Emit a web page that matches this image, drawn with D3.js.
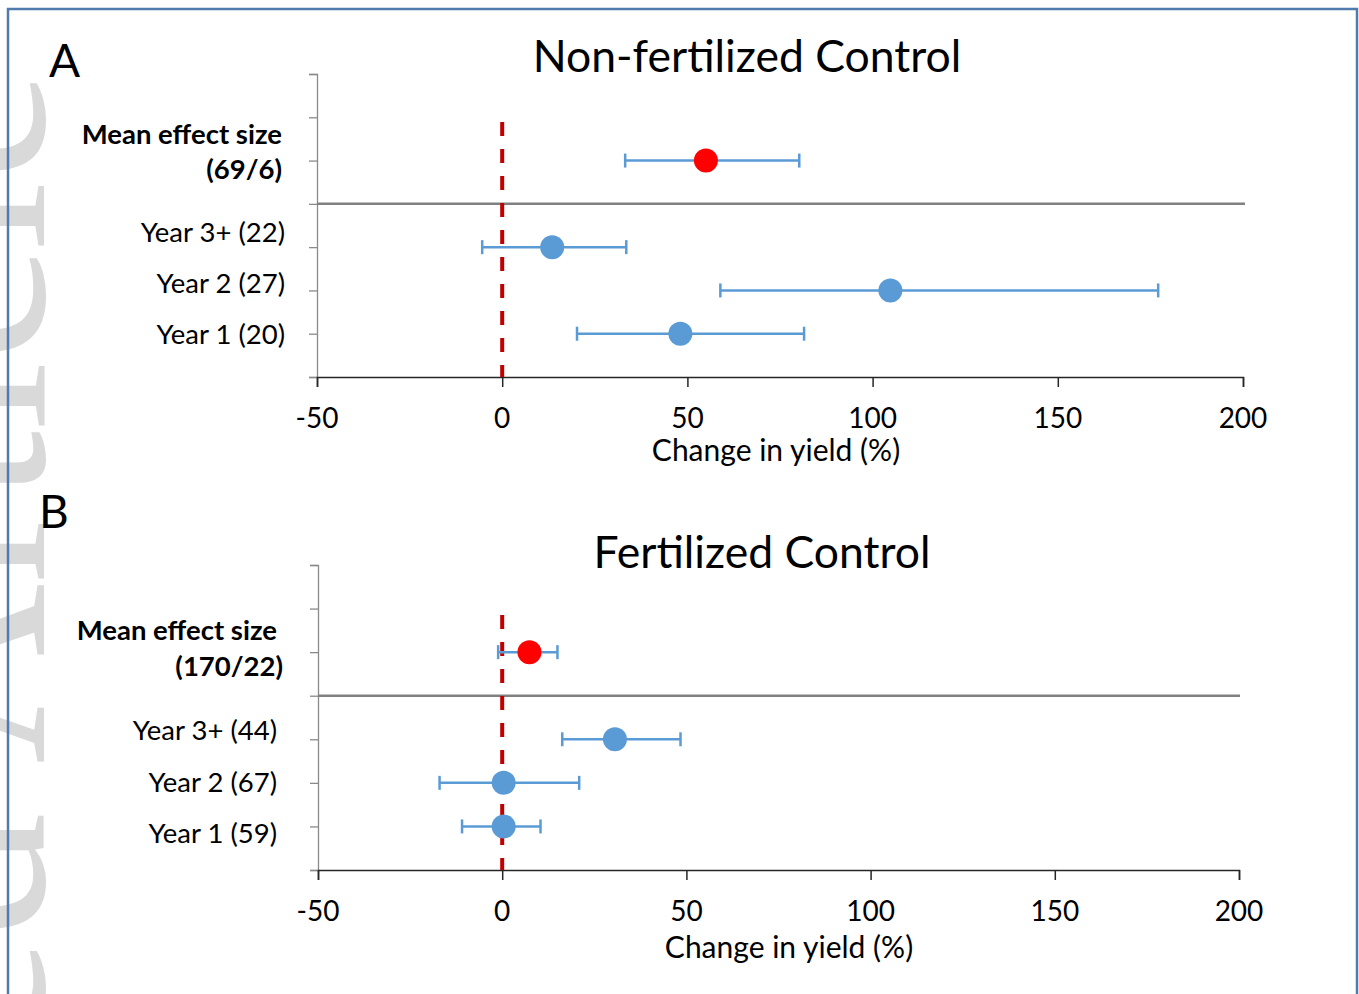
<!DOCTYPE html>
<html>
<head>
<meta charset="utf-8">
<script src="https://cdn.jsdelivr.net/npm/d3@7"></script>
<style>
  body { margin: 0; background: #fff; }
  svg { display: block; }
  text { font-family: Lato, "Noto Sans", sans-serif; fill: #000; }
</style>
</head>
<body>
<svg id="chart" width="1359" height="994"></svg>
<script>
const xTicks = [-50, 0, 50, 100, 150, 200];

// A: non-fertilized control (rows: year 1, year 2, year 3+)
const labelsA = ['Year 1 (20)', 'Year 2 (27)', 'Year 3+ (22)'];
const meansA = [48.1, 104.8, 13.5];
const lowA = [20.2, 58.9, -5.4];
const highA = [81.5, 177.1, 33.5];
const overallA = [55.0];
const overallLowA = [33.2];
const overallHighA = [80.2];

// B: fertilized control
const labelsB = ['Year 1 (59)', 'Year 2 (67)', 'Year 3+ (44)'];
const meansB = [0.4, 0.4, 30.6];
const lowB = [-10.9, -17.0, 16.3];
const highB = [10.4, 20.9, 48.4];
const overallB = [7.4];
const overallLowB = [-1.1];
const overallHighB = [15.0];

const svg = d3.select('#chart');

// faint watermark down the left edge
svg.append('text')
  .attr('transform', 'translate(44,70) rotate(-90)')
  .attr('text-anchor', 'end')
  .style('font-family', '"Liberation Serif", serif')
  .style('font-size', '250px')
  .style('fill', '#d9d9d9')
  .text('Accepted Article');

// frame
svg.append('rect')
  .attr('x', 8).attr('y', 9)
  .attr('width', 1349).attr('height', 1100)
  .attr('fill', 'none')
  .attr('stroke', '#4f7cac')
  .attr('stroke-width', 2.5);

const panels = [
  {
    letter: 'A', letterX: 49, letterY: 77,
    title: 'Non-fertilized Control', titleX: 747, titleY: 72,
    xLabel: 'Change in yield  (%)', xLabelX: 776, xLabelY: 461,
    left: 317, right: 1243, top: 74, bottom: 377, sepRight: 1245,
    dashTop: 122, tickLabelY: 428,
    labels: labelsA, means: meansA, low: lowA, high: highA,
    overall: overallA, overallLow: overallLowA, overallHigh: overallHighA,
    meanText: ['Mean effect size', '(69/6)'], meanTextX: [282, 282], meanTextY: [144, 179],
    labelX: 285, labelY: [344, 293, 242]
  },
  {
    letter: 'B', letterX: 39, letterY: 528,
    title: 'Fertilized Control', titleX: 762, titleY: 568,
    xLabel: 'Change in yield (%)', xLabelX: 789, xLabelY: 958,
    left: 318, right: 1239, top: 565, bottom: 870, sepRight: 1240,
    dashTop: 615, tickLabelY: 921,
    labels: labelsB, means: meansB, low: lowB, high: highB,
    overall: overallB, overallLow: overallLowB, overallHigh: overallHighB,
    meanText: ['Mean effect size', '(170/22)'], meanTextX: [277, 283], meanTextY: [640, 676],
    labelX: 277, labelY: [843, 792, 740]
  }
];

panels.forEach(p => {
  const g = svg.append('g');

  const x = d3.scaleLinear().domain([-50, 200]).range([p.left, p.right]);
  const y = d3.scaleLinear().domain([0, 7]).range([p.bottom, p.top]);

  // y axis: plain grey line with ticks at every row boundary
  const yAxis = g.append('g')
    .attr('transform', `translate(${p.left},0)`)
    .call(d3.axisLeft(y).ticks(7).tickSize(8).tickFormat(''));
  yAxis.selectAll('path, line').attr('stroke', '#8a8a8a').attr('stroke-width', 1.3);

  // separator between overall mean and yearly rows
  g.append('line')
    .attr('x1', p.left).attr('x2', p.sepRight)
    .attr('y1', y(4)).attr('y2', y(4))
    .attr('stroke', '#808080').attr('stroke-width', 2.5);

  // x axis
  const xAxis = g.append('g')
    .attr('transform', `translate(0,${p.bottom})`)
    .call(d3.axisBottom(x).tickValues(xTicks).tickSize(10).tickSizeOuter(10).tickFormat(''));
  xAxis.selectAll('path, line').attr('stroke', '#262626').attr('stroke-width', 1.5);

  g.selectAll('.tick-label')
    .data(xTicks)
    .enter().append('text')
    .attr('class', 'tick-label')
    .attr('x', d => x(d))
    .attr('y', p.tickLabelY)
    .attr('text-anchor', 'middle')
    .style('font-size', '28px')
    .text(d => d);

  // zero reference line
  g.append('line')
    .attr('x1', x(0)).attr('x2', x(0))
    .attr('y1', p.dashTop).attr('y2', p.bottom)
    .attr('stroke', '#c00000').attr('stroke-width', 4)
    .attr('stroke-dasharray', '14,13');

  // rows: yearly estimates (blue) + overall mean (red)
  const rows = p.means.map((m, i) => ({ pos: i + 1, mean: m, low: p.low[i], high: p.high[i], color: '#5b9bd5' }));
  p.overall.forEach((m, i) => rows.push({ pos: 5, mean: m, low: p.overallLow[i], high: p.overallHigh[i], color: '#ff0000' }));

  const row = g.selectAll('.row').data(rows).enter().append('g').attr('class', 'row');
  row.append('line')
    .attr('x1', d => x(d.low)).attr('x2', d => x(d.high))
    .attr('y1', d => y(d.pos)).attr('y2', d => y(d.pos))
    .attr('stroke', '#5b9bd5').attr('stroke-width', 2.5);
  ['low', 'high'].forEach(k => {
    row.append('line')
      .attr('x1', d => x(d[k])).attr('x2', d => x(d[k]))
      .attr('y1', d => y(d.pos) - 7).attr('y2', d => y(d.pos) + 7)
      .attr('stroke', '#5b9bd5').attr('stroke-width', 2.5);
  });
  row.append('circle')
    .attr('cx', d => x(d.mean))
    .attr('cy', d => y(d.pos))
    .attr('r', 12)
    .attr('fill', d => d.color);

  // row labels
  g.selectAll('.row-label')
    .data(p.labels)
    .enter().append('text')
    .attr('class', 'row-label')
    .attr('x', p.labelX)
    .attr('y', (d, i) => p.labelY[i])
    .attr('text-anchor', 'end')
    .style('font-size', '27.5px')
    .text(d => d);

  p.meanText.forEach((t, i) => {
    g.append('text')
      .attr('x', p.meanTextX[i]).attr('y', p.meanTextY[i])
      .attr('text-anchor', 'end')
      .style('font-size', '27.5px')
      .style('font-weight', 'bold')
      .text(t);
  });

  g.append('text')
    .attr('x', p.titleX).attr('y', p.titleY)
    .attr('text-anchor', 'middle')
    .style('font-size', '44.5px')
    .text(p.title);

  g.append('text')
    .attr('x', p.xLabelX).attr('y', p.xLabelY)
    .attr('text-anchor', 'middle')
    .style('font-size', '30px')
    .text(p.xLabel);

  g.append('text')
    .attr('x', p.letterX).attr('y', p.letterY)
    .style('font-size', '46px')
    .text(p.letter);
});
</script>
</body>
</html>
